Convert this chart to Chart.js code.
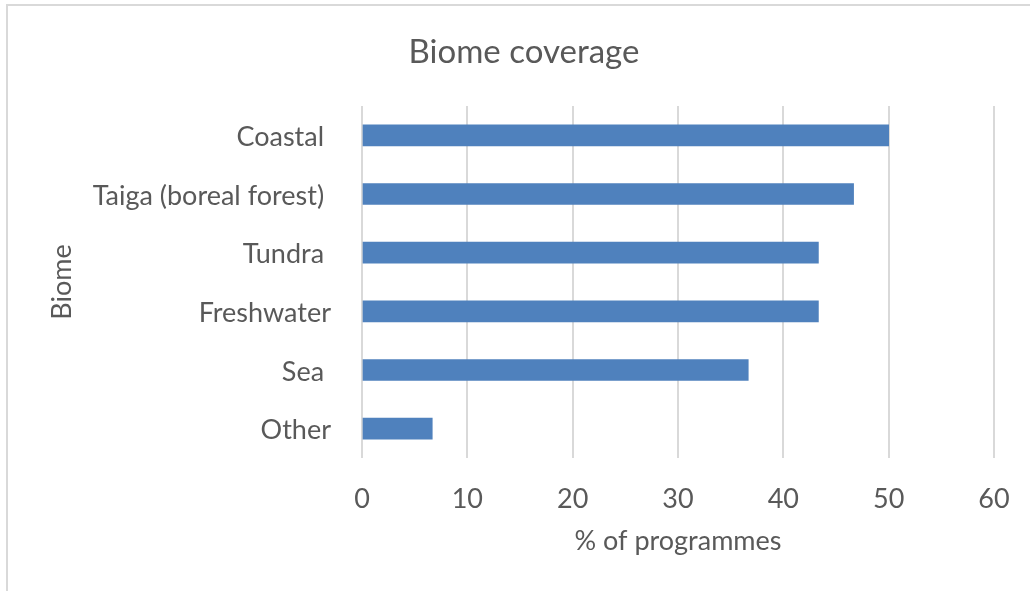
<!DOCTYPE html>
<html>
<head>
<meta charset="utf-8">
<script src="https://cdn.jsdelivr.net/npm/chart.js@4"></script>
<style>
    html, body { margin: 0; padding: 0; background: #ffffff; }
    #wrap { position: relative; width: 1030px; height: 591px; overflow: hidden; }
    #frame {
        position: absolute; left: 6px; top: 4px; width: 1100px; height: 700px;
        border-top: 2px solid #d9d9d9; border-left: 2px solid #d9d9d9;
        pointer-events: none;
    }
</style>
</head>
<body>
<div id="wrap">
    <canvas id="biome-chart" width="1030" height="591"></canvas>
    <div id="frame"></div>
</div>
<script>
// Biome coverage data
const biomes = ['Coastal ', 'Taiga (boreal forest) ', 'Tundra ', 'Freshwater', 'Sea ', 'Other'];
const coverage = [50, 46.67, 43.33, 43.33, 36.67, 6.67];
const xTicks = [0, 10, 20, 30, 40, 50, 60];

const TEXT_COLOR = '#595959';
const GRID_COLOR = '#d9d9d9';
const BAR_COLOR = '#4f81bd';
const FONT = 'Lato, "Open Sans", sans-serif';

// Plot box edges in canvas pixels
const PLOT_LEFT = 362;
const PLOT_BOTTOM = 458;
const PAD_LEFT = 54;

function initializeChart() {
    const ctx = document.getElementById('biome-chart').getContext('2d');

    new Chart(ctx, {
        type: 'bar',
        data: {
            labels: biomes,
            datasets: [{
                label: 'Biome coverage',
                data: coverage,
                backgroundColor: BAR_COLOR,
                borderWidth: 0,
                barThickness: 21
            }]
        },
        options: {
            indexAxis: 'y',
            responsive: false,
            animation: false,
            layout: {
                padding: { left: PAD_LEFT, right: 36, top: 0, bottom: 0 }
            },
            scales: {
                x: {
                    min: 0,
                    max: 60,
                    afterBuildTicks: (scale) => {
                        scale.ticks = xTicks.map(v => ({ value: v }));
                    },
                    afterFit: (scale) => {
                        scale.height = 591 - PLOT_BOTTOM;
                        // tick padding would otherwise eat into the right side
                        scale.paddingLeft = 0;
                        scale.paddingRight = 0;
                    },
                    border: { display: false },
                    grid: {
                        color: GRID_COLOR,
                        lineWidth: 2,
                        drawTicks: false
                    },
                    ticks: {
                        color: TEXT_COLOR,
                        font: { family: FONT, size: 27 },
                        padding: 25
                    },
                    title: {
                        display: true,
                        text: '% of programmes',
                        color: TEXT_COLOR,
                        font: { family: FONT, size: 27 },
                        padding: { top: 0, bottom: 34 }
                    }
                },
                y: {
                    afterFit: (scale) => {
                        scale.width = PLOT_LEFT - PAD_LEFT;
                    },
                    border: { display: false },
                    grid: { display: false, drawTicks: false },
                    ticks: {
                        color: TEXT_COLOR,
                        font: { family: FONT, size: 27 },
                        padding: 31,
                        labelOffset: 2
                    },
                    title: {
                        display: true,
                        text: 'Biome',
                        color: TEXT_COLOR,
                        font: { family: FONT, size: 27 },
                        padding: { top: -8, bottom: 0 }
                    }
                }
            },
            plugins: {
                legend: { display: false },
                tooltip: { enabled: false },
                title: {
                    display: true,
                    text: 'Biome coverage',
                    color: TEXT_COLOR,
                    font: { family: FONT, size: 33, weight: 'normal' },
                    padding: { top: 33, bottom: 33.4 }
                }
            }
        }
    });
}

document.addEventListener('DOMContentLoaded', initializeChart);
</script>
</body>
</html>
